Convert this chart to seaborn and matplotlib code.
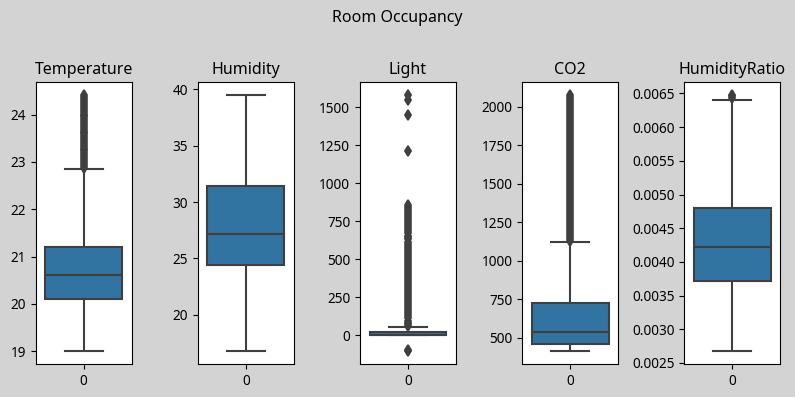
import numpy as np
import pandas as pd
import matplotlib
matplotlib.use("Agg")
import matplotlib.pyplot as plt
import seaborn as sns

plt.rcParams['font.family'] = ['Noto Sans', 'DejaVu Sans']

# ---- data ----
variables = ["Temperature", "Humidity", "Light", "CO2", "HumidityRatio"]

# [whisker low, Q1, median, Q3, whisker high]
temperature_stats = [19.0, 20.1, 20.6, 21.2, 22.84]
humidity_stats = [16.75, 24.4, 27.2, 31.4, 39.5]
light_stats = [0.0, 0.0, 0.0, 22.0, 54.0]
co2_stats = [413.0, 458.0, 540.0, 725.0, 1120.0]
humidity_ratio_stats = [0.002674, 0.00371, 0.00422, 0.0048, 0.00641]

temperature_outliers = [22.88, 22.92, 22.96, 23.0, 23.04, 23.08, 23.12, 23.16, 23.2,
                        23.24, 23.28, 23.32, 23.36, 23.4, 23.44, 23.48, 23.52, 23.56,
                        23.6, 23.64, 23.68, 23.72, 23.76, 23.8, 23.84, 23.88, 23.92,
                        23.96, 24.0, 24.04, 24.08, 24.12, 24.16, 24.2, 24.24, 24.28,
                        24.32, 24.36, 24.41]
humidity_outliers = []
light_outliers = [-106.0, -99.0, 57, 70, 83, 96, 110, 123, 136, 150, 163, 176, 190,
                  203, 216, 230, 243, 256, 270, 283, 296, 310, 323, 336, 350, 363,
                  376, 390, 403, 416, 430, 443, 456, 470, 483, 496, 510, 523, 536,
                  550, 563, 576, 590, 603, 616, 630, 643, 656, 670, 683, 696, 710,
                  723, 736, 750, 763, 776, 790, 803, 816, 830, 843, 854,
                  1210, 1450, 1546, 1581]
co2_outliers = [1126, 1139, 1152, 1165, 1178, 1191, 1204, 1217, 1230, 1243, 1256,
                1269, 1282, 1295, 1308, 1321, 1334, 1347, 1360, 1373, 1386, 1399,
                1412, 1425, 1438, 1451, 1464, 1477, 1490, 1503, 1516, 1529, 1542,
                1555, 1568, 1581, 1594, 1607, 1620, 1633, 1646, 1659, 1672, 1685,
                1698, 1711, 1724, 1737, 1750, 1763, 1776, 1789, 1802, 1815, 1828,
                1841, 1854, 1867, 1880, 1893, 1906, 1919, 1932, 1945, 1958, 1971,
                1984, 1997, 2010, 2023, 2036, 2049, 2062, 2077]
humidity_ratio_outliers = [0.00644, 0.00646, 0.006476]

all_stats = [temperature_stats, humidity_stats, light_stats, co2_stats, humidity_ratio_stats]
all_outliers = [temperature_outliers, humidity_outliers, light_outliers, co2_outliers,
                humidity_ratio_outliers]


def sample_from_summary(stats, outliers):
    """Build a sample whose box-plot statistics equal the read values."""
    lo, q1, med, q3, hi = stats
    low = sorted(v for v in outliers if v < lo)
    high = sorted(v for v in outliers if v > hi)
    k = max(len(low), len(high) + 1) + 1
    vals = (low + [lo] + [q1] * (k - len(low)) + [med] * k + [q3] * k
            + [q3] * (k - len(high) - 1) + [hi] + high)
    return np.array(vals, dtype=float)


fig, axes = plt.subplots(1, 5, figsize=(7.95, 3.97), dpi=100)
fig.patch.set_facecolor("#d3d3d3")
fig.subplots_adjust(left=0.0449, right=0.9815, top=0.7927, bottom=0.0831, wspace=0.6875)

for ax, name, stats, outl in zip(axes, variables, all_stats, all_outliers):
    values = sample_from_summary(stats, outl)
    sns.boxplot(data=pd.DataFrame({0: values}), ax=ax, color="#1f77b4", saturation=0.75,
                linecolor="#3f3f3f", linewidth=1.5, width=0.8,
                flierprops=dict(marker="d", markersize=5.5, markeredgewidth=1.3,
                                markerfacecolor="#3f3f3f", markeredgecolor="#3f3f3f"))
    ax.set_title(name, fontsize=11.5)
    ax.set_facecolor("white")
    ax.set_xlabel("")
    ax.set_ylabel("")
    ax.tick_params(labelsize=9.8)

fig.suptitle("Room Occupancy", fontsize=11.5, y=0.975)
fig.savefig("out.png", dpi=100, facecolor=fig.get_facecolor())
